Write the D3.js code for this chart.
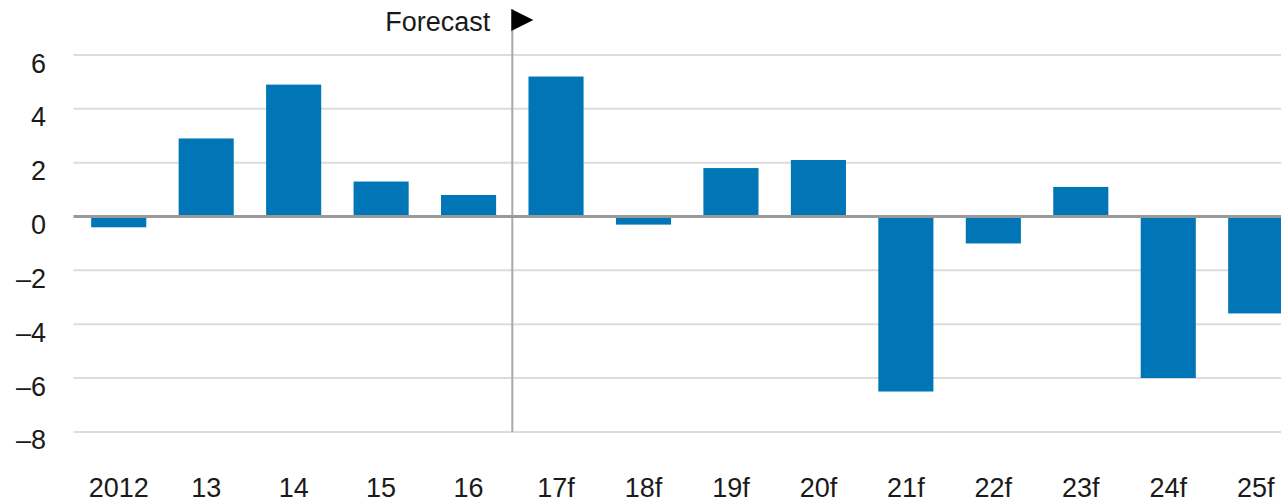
<!DOCTYPE html>
<html>
<head>
<meta charset="utf-8">
<script src="https://cdn.jsdelivr.net/npm/d3@7"></script>
<style>
  html, body { margin: 0; padding: 0; background: #fff; overflow: hidden; }
  svg { display: block; }
  text { font-family: "Liberation Sans", Arial, Helvetica, sans-serif; fill: #1a1a1a; }
</style>
</head>
<body>
<svg id="chart" width="1281" height="503"></svg>
<script>
const categories = ["2012", "13", "14", "15", "16", "17f", "18f", "19f", "20f", "21f", "22f", "23f", "24f", "25f"];
const values = [-0.4, 2.9, 4.9, 1.3, 0.8, 5.2, -0.3, 1.8, 2.1, -6.5, -1.0, 1.1, -6.0, -3.6];
const yTicks = [6, 4, 2, 0, -2, -4, -6, -8];
const forecastStart = "17f";
const forecastLabel = "Forecast";

const svg = d3.select("#chart");
const W = 1281, H = 503;
const plotLeft = 73.5;
const step = 87.46;

const x = d3.scaleBand()
  .domain(categories)
  .range([plotLeft + 1.5, plotLeft + 1.5 + step * categories.length])
  .paddingInner(0.37)
  .paddingOuter(0.185);

const y = d3.scaleLinear().domain([-8, 6]).range([431.9, 55]);

// gridlines
svg.append("g")
  .selectAll("line")
  .data(yTicks.filter(d => d !== 0))
  .join("line")
  .attr("x1", plotLeft).attr("x2", W + 30)
  .attr("y1", d => y(d)).attr("y2", d => y(d))
  .attr("stroke", "#dcdcdc").attr("stroke-width", 2);

// y labels
const fmt = d => d < 0 ? "\u2013" + Math.abs(d) : String(d);
svg.append("g")
  .selectAll("text")
  .data(yTicks)
  .join("text")
  .attr("x", 46)
  .attr("y", d => y(d) + 17.5)
  .attr("text-anchor", "end")
  .attr("font-size", 27)
  .text(fmt);

// forecast divider
const fx = x(forecastStart) - x.step() * x.paddingInner() / 2;
svg.append("line")
  .attr("x1", fx).attr("x2", fx)
  .attr("y1", 9).attr("y2", y(-8))
  .attr("stroke", "#a9a9a9").attr("stroke-width", 2);

// bars
svg.append("g")
  .selectAll("rect")
  .data(categories.map((c, i) => ({ c, v: values[i] })))
  .join("rect")
  .attr("x", d => x(d.c))
  .attr("width", x.bandwidth())
  .attr("y", d => d.v >= 0 ? y(d.v) : y(0))
  .attr("height", d => Math.abs(y(d.v) - y(0)))
  .attr("fill", "#0076b6");

// zero line
svg.append("line")
  .attr("x1", plotLeft).attr("x2", W + 30)
  .attr("y1", y(0)).attr("y2", y(0))
  .attr("stroke", "#999999").attr("stroke-width", 3);

// x labels
svg.append("g")
  .selectAll("text")
  .data(categories)
  .join("text")
  .attr("x", d => x(d) + x.bandwidth() / 2)
  .attr("y", 497)
  .attr("text-anchor", "middle")
  .attr("font-size", 27)
  .text(d => d);

// forecast label and arrow
svg.append("text")
  .attr("x", fx - 22)
  .attr("y", 31)
  .attr("text-anchor", "end")
  .attr("font-size", 27)
  .text(forecastLabel);

svg.append("path")
  .attr("d", d3.line()([[fx - 1, 9], [fx - 1, 31], [fx + 21, 20]]) + "Z")
  .attr("fill", "#000");
</script>
</body>
</html>
